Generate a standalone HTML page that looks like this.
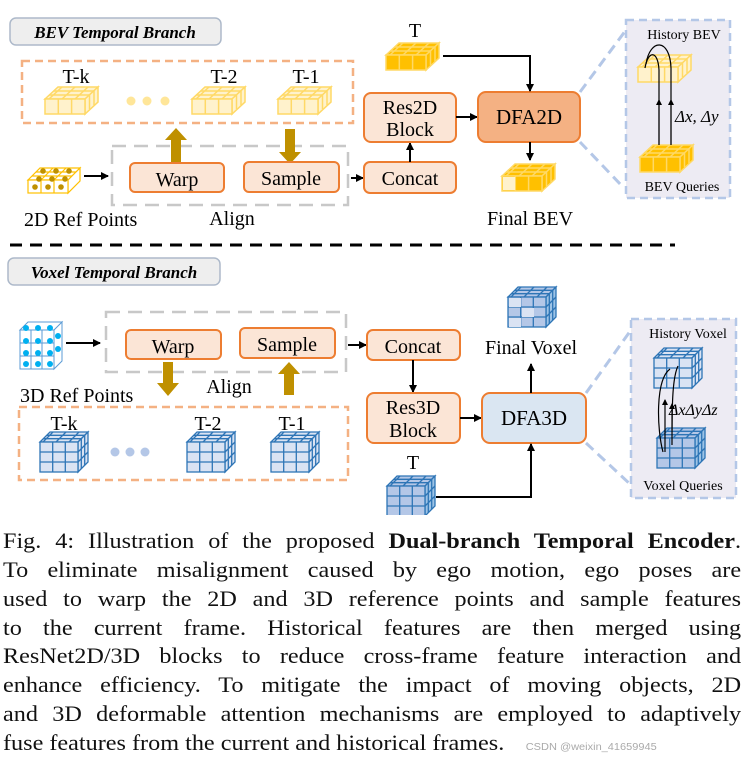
<!DOCTYPE html>
<html><head><meta charset="utf-8"><style>
html,body{margin:0;padding:0;background:#fff;width:747px;height:760px;overflow:hidden}
svg{position:absolute;left:0;top:0}
.cap{position:absolute;left:3px;width:671px;font-family:"Liberation Serif",serif;font-size:22px;line-height:29px;color:#111;white-space:nowrap;transform:scaleX(1.1);transform-origin:0 0}
.j{text-align:justify;text-align-last:justify}
</style></head><body>
<svg width="747" height="515" viewBox="0 0 747 515" font-family="Liberation Serif, serif">
<defs>
<marker id="ah" markerWidth="8" markerHeight="8" refX="7" refY="4" orient="auto" markerUnits="userSpaceOnUse"><path d="M0,0 L8,4 L0,8 z" fill="#000"/></marker>
<marker id="as" markerWidth="6" markerHeight="6" refX="5" refY="3" orient="auto" markerUnits="userSpaceOnUse"><path d="M0,0 L6,3 L0,6 z" fill="#000"/></marker>
<g id="tile" stroke="#ffd966" stroke-width="1.5">
 <path d="M0,12 L13,0 L53,0 L40,12 z" fill="#fff2cc"/>
 <path d="M40,12 L53,0 L53,15 L40,27 z" fill="#fff2cc"/>
 <rect x="0" y="12" width="40" height="15" fill="#fff2cc"/>
 <path d="M13.3,12 V27 M26.6,12 V27 M4,8 H44 M8.5,4 H48.5 M17,0 L4,12 M30,0 L17,12 M43,0 L30,12 M44.5,7 V22 M49,3 V18" fill="none"/>
</g>
<g id="tileT" stroke="#ffd966" stroke-width="1.5">
 <path d="M0,12 L13,0 L53,0 L40,12 z" fill="#ffc000"/>
 <path d="M40,12 L53,0 L53,15 L40,27 z" fill="#ffc000"/>
 <rect x="0" y="12" width="40" height="15" fill="#ffc000"/>
 <path d="M13.3,12 V27 M26.6,12 V27 M4,8 H44 M8.5,4 H48.5 M17,0 L4,12 M30,0 L17,12 M43,0 L30,12 M44.5,7 V22 M49,3 V18" fill="none"/>
</g>
<g id="cube" stroke="#2e75b6" stroke-width="1.3">
 <path d="M0,10 L10,0 L48,0 L38,10 z" fill="#dae3f3"/>
 <path d="M38,10 L48,0 L48,30 L38,40 z" fill="#dae3f3"/>
 <rect x="0" y="10" width="38" height="30" fill="#dae3f3"/>
 <path d="M12.7,10 V40 M25.3,10 V40 M0,20 H38 M0,30 H38 M13,0 L3,10 M26,0 L16,10 M39,0 L29,10 M3.3,6.7 H41.3 M6.7,3.3 H44.7 M41.3,6.7 V36.7 M44.7,3.3 V33.3 M38,20 L48,10 M38,30 L48,20" fill="none"/>
</g>
<g id="cubeD" stroke="#2e75b6" stroke-width="1.3">
 <path d="M0,10 L10,0 L48,0 L38,10 z" fill="#b4c7e7"/>
 <path d="M38,10 L48,0 L48,30 L38,40 z" fill="#9dc3e6"/>
 <rect x="0" y="10" width="38" height="30" fill="#b4c7e7"/>
 <path d="M12.7,10 V40 M25.3,10 V40 M0,20 H38 M0,30 H38 M13,0 L3,10 M26,0 L16,10 M39,0 L29,10 M3.3,6.7 H41.3 M6.7,3.3 H44.7 M41.3,6.7 V36.7 M44.7,3.3 V33.3 M38,20 L48,10 M38,30 L48,20" fill="none"/>
</g>
</defs>

<rect x="10" y="18" width="211" height="27" rx="6" fill="#eeeeee" stroke="#adb9ca" stroke-width="1.5"/>
<text x="115" y="38" text-anchor="middle" font-size="17" font-weight="bold" font-style="italic">BEV Temporal Branch</text>

<rect x="22" y="61" width="331" height="62" fill="none" stroke="#f4b183" stroke-width="2.5" stroke-dasharray="8,5"/>
<g font-size="20" text-anchor="middle">
<text x="76" y="83">T-k</text><text x="224" y="83">T-2</text><text x="306" y="83">T-1</text></g>
<use href="#tile" x="45" y="87"/><use href="#tile" x="192" y="87"/><use href="#tile" x="278" y="87"/>
<circle cx="131" cy="101" r="4.5" fill="#ffe699"/><circle cx="147" cy="101" r="4.5" fill="#ffe699"/><circle cx="165" cy="101" r="4.5" fill="#ffe699"/>

<rect x="112" y="146" width="236" height="59" fill="none" stroke="#c8c8c8" stroke-width="2.5" stroke-dasharray="14,8"/>
<path d="M171,163 V140 H165 L176,128 L187,140 H181 V163 z" fill="#bf9000"/>
<path d="M285,129 V152 H279 L290,164 L301,152 H295 V129 z" fill="#bf9000"/>
<rect x="130" y="163" width="94" height="29" rx="5" fill="#fbe5d6" stroke="#ed7d31" stroke-width="2"/>
<text x="177" y="186" text-anchor="middle" font-size="20">Warp</text>
<rect x="244" y="162" width="95" height="30" rx="5" fill="#fbe5d6" stroke="#ed7d31" stroke-width="2"/>
<text x="291" y="185" text-anchor="middle" font-size="20">Sample</text>

<g stroke="#ffc000" stroke-width="1.2" fill="#fff">
<path d="M28,180 L40,168 L80,168 L68,180 z"/><path d="M68,180 L80,168 L80,181 L68,193 z"/><rect x="28" y="180" width="40" height="13"/>
<path d="M41,180 V193 M54,180 V193 M32,176 H72 M36,172 H76 M53,168 L41,180 M66,168 L54,180" fill="none"/></g>
<g fill="#bf9000"><circle cx="43" cy="171" r="2.8"/><circle cx="56" cy="171" r="2.8"/><circle cx="69" cy="171" r="2.8"/>
<circle cx="39" cy="179" r="2.8"/><circle cx="52" cy="179" r="2.8"/><circle cx="65" cy="179" r="2.8"/>
<circle cx="35" cy="187" r="2.8"/><circle cx="48" cy="187" r="2.8"/><circle cx="61" cy="187" r="2.8"/></g>
<line x1="84" y1="176" x2="108" y2="176" stroke="#000" stroke-width="2" marker-end="url(#ah)"/>
<text x="24" y="226" font-size="20">2D Ref Points</text>
<text x="232" y="225" text-anchor="middle" font-size="20">Align</text>

<line x1="351" y1="178" x2="363" y2="178" stroke="#000" stroke-width="2" marker-end="url(#ah)"/>
<rect x="364" y="162" width="92" height="31" rx="6" fill="#fbe5d6" stroke="#ed7d31" stroke-width="2"/>
<text x="410" y="185" text-anchor="middle" font-size="20">Concat</text>
<line x1="410" y1="162" x2="410" y2="143" stroke="#000" stroke-width="2" marker-end="url(#ah)"/>
<rect x="364" y="93" width="92" height="49" rx="7" fill="#fbe5d6" stroke="#ed7d31" stroke-width="2"/>
<text x="410" y="114" text-anchor="middle" font-size="20">Res2D</text>
<text x="410" y="136" text-anchor="middle" font-size="20">Block</text>
<line x1="456" y1="117" x2="477" y2="117" stroke="#000" stroke-width="2" marker-end="url(#ah)"/>
<rect x="478" y="92" width="102" height="50" rx="8" fill="#f4b183" stroke="#ed7d31" stroke-width="2"/>
<text x="529" y="124" text-anchor="middle" font-size="21">DFA2D</text>
<text x="415" y="37" text-anchor="middle" font-size="20">T</text>
<use href="#tileT" x="386" y="43"/>
<path d="M443,56 H530 V91" fill="none" stroke="#000" stroke-width="2" marker-end="url(#ah)"/>
<line x1="530" y1="142" x2="530" y2="160" stroke="#000" stroke-width="2" marker-end="url(#ah)"/>
<use href="#tileT" x="502" y="164"/>
<rect x="503" y="177" width="12" height="13" fill="#fff2cc"/>
<text x="530" y="225" text-anchor="middle" font-size="20">Final BEV</text>

<line x1="580" y1="92" x2="626" y2="30" stroke="#b4c7e7" stroke-width="3" stroke-dasharray="10,6"/>
<line x1="580" y1="142" x2="622" y2="186" stroke="#b4c7e7" stroke-width="3" stroke-dasharray="10,6"/>
<rect x="626" y="20" width="104" height="178" fill="#edebf3" stroke="#b4c7e7" stroke-width="2.5" stroke-dasharray="8,5"/>
<text x="684" y="39" text-anchor="middle" font-size="14">History BEV</text>
<use href="#tile" x="638" y="55"/>
<use href="#tileT" x="640" y="145"/>
<path d="M659,145 V100" stroke="#000" stroke-width="1.3" fill="none" marker-end="url(#as)"/>
<path d="M671,145 V100" stroke="#000" stroke-width="1.3" fill="none" marker-end="url(#as)"/>
<path d="M659,100 V70 C658,50 648,50 645,68" stroke="#000" stroke-width="1.2" fill="none"/>
<path d="M671,100 V68 C670,38 650,38 646,64" stroke="#000" stroke-width="1.2" fill="none"/>
<text x="675" y="122" font-size="17" font-style="italic">Δx, Δy</text>
<text x="682" y="191" text-anchor="middle" font-size="14">BEV Queries</text>

<line x1="10" y1="245" x2="675" y2="245" stroke="#000" stroke-width="3" stroke-dasharray="12,8"/>

<rect x="8" y="258" width="212" height="27" rx="6" fill="#eeeeee" stroke="#adb9ca" stroke-width="1.5"/>
<text x="114" y="278" text-anchor="middle" font-size="17" font-weight="bold" font-style="italic">Voxel Temporal Branch</text>

<g stroke="#5b9bd5" stroke-width="1" fill="none">
<path d="M20,330 L28,322 L62,322 L54,330 z M54,330 L62,322 L62,361 L54,369 z"/><rect x="20" y="330" width="34" height="39"/>
<path d="M31,330 V369 M42,330 V369 M20,343 H54 M20,356 H54"/></g>
<g fill="#00b0f0">
<circle cx="26" cy="328" r="3"/><circle cx="38" cy="328" r="3"/><circle cx="50" cy="328" r="3"/>
<circle cx="26" cy="341" r="3"/><circle cx="38" cy="341" r="3"/><circle cx="50" cy="341" r="3"/><circle cx="58" cy="336" r="3"/>
<circle cx="26" cy="353" r="3"/><circle cx="38" cy="353" r="3"/><circle cx="50" cy="353" r="3"/><circle cx="58" cy="349" r="3"/>
<circle cx="26" cy="364" r="3"/><circle cx="38" cy="364" r="3"/><circle cx="50" cy="364" r="3"/></g>
<line x1="66" y1="343" x2="100" y2="343" stroke="#000" stroke-width="2" marker-end="url(#ah)"/>

<rect x="106" y="312" width="240" height="60" fill="none" stroke="#c8c8c8" stroke-width="2.5" stroke-dasharray="14,8"/>
<rect x="126" y="330" width="95" height="29" rx="5" fill="#fbe5d6" stroke="#ed7d31" stroke-width="2"/>
<text x="173" y="353" text-anchor="middle" font-size="20">Warp</text>
<rect x="240" y="328" width="95" height="30" rx="5" fill="#fbe5d6" stroke="#ed7d31" stroke-width="2"/>
<text x="287" y="351" text-anchor="middle" font-size="20">Sample</text>
<path d="M163,362 V383 H157 L168,396 L179,383 H173 V362 z" fill="#bf9000"/>
<path d="M284,395 V374 H278 L289,362 L300,374 H294 V395 z" fill="#bf9000"/>
<text x="229" y="393" text-anchor="middle" font-size="20">Align</text>
<text x="20" y="402" font-size="20">3D Ref Points</text>

<rect x="19" y="407" width="329" height="73" fill="none" stroke="#f4b183" stroke-width="2.5" stroke-dasharray="8,5"/>
<g font-size="20" text-anchor="middle"><text x="64" y="430">T-k</text><text x="208" y="430">T-2</text><text x="292" y="430">T-1</text></g>
<use href="#cube" x="40" y="432"/><use href="#cube" x="187" y="432"/><use href="#cube" x="271" y="432"/>
<circle cx="115" cy="452" r="4.5" fill="#b4c7e7"/><circle cx="130" cy="452" r="4.5" fill="#b4c7e7"/><circle cx="145" cy="452" r="4.5" fill="#b4c7e7"/>

<line x1="348" y1="345" x2="366" y2="345" stroke="#000" stroke-width="2" marker-end="url(#ah)"/>
<rect x="367" y="330" width="93" height="30" rx="6" fill="#fbe5d6" stroke="#ed7d31" stroke-width="2"/>
<text x="413" y="353" text-anchor="middle" font-size="20">Concat</text>
<line x1="413" y1="360" x2="413" y2="392" stroke="#000" stroke-width="2" marker-end="url(#ah)"/>
<rect x="367" y="393" width="93" height="50" rx="7" fill="#fbe5d6" stroke="#ed7d31" stroke-width="2"/>
<text x="413" y="414" text-anchor="middle" font-size="20">Res3D</text>
<text x="413" y="437" text-anchor="middle" font-size="20">Block</text>
<line x1="460" y1="418" x2="481" y2="418" stroke="#000" stroke-width="2" marker-end="url(#ah)"/>
<rect x="482" y="393" width="104" height="50" rx="8" fill="#dae6f2" stroke="#ed7d31" stroke-width="2"/>
<text x="534" y="425" text-anchor="middle" font-size="21">DFA3D</text>
<line x1="531" y1="393" x2="531" y2="364" stroke="#000" stroke-width="2" marker-end="url(#ah)"/>
<text x="531" y="354" text-anchor="middle" font-size="20">Final Voxel</text>
<use href="#cubeD" x="508" y="287"/>
<rect x="509" y="298" width="12" height="9" fill="#dae3f3"/><rect x="522" y="308" width="12" height="9" fill="#dae3f3"/><rect x="509" y="318" width="12" height="9" fill="#dae3f3"/>
<text x="413" y="469" text-anchor="middle" font-size="20">T</text>
<use href="#cubeD" x="387" y="476"/>
<path d="M436,497 H531 V444" fill="none" stroke="#000" stroke-width="2" marker-end="url(#ah)"/>

<line x1="586" y1="393" x2="631" y2="330" stroke="#b4c7e7" stroke-width="3" stroke-dasharray="10,6"/>
<line x1="586" y1="443" x2="631" y2="485" stroke="#b4c7e7" stroke-width="3" stroke-dasharray="10,6"/>
<rect x="631" y="319" width="105" height="179" fill="#edebf3" stroke="#b4c7e7" stroke-width="2.5" stroke-dasharray="8,5"/>
<text x="688" y="338" text-anchor="middle" font-size="14">History Voxel</text>
<use href="#cube" x="654" y="348"/>
<use href="#cubeD" x="657" y="428"/>
<path d="M663,452 C657,430 655,380 670,369" stroke="#000" stroke-width="1.2" fill="none"/>
<path d="M665,452 V400" stroke="#000" stroke-width="1.2" fill="none" marker-end="url(#as)"/>
<path d="M672,445 C672,410 672,378 678,366" stroke="#000" stroke-width="1.2" fill="none"/>
<path d="M672,430 V404" stroke="#000" stroke-width="1.2" fill="none" marker-end="url(#as)"/>
<text x="669" y="415" font-size="16" font-style="italic">ΔxΔyΔz</text>
<text x="683" y="490" text-anchor="middle" font-size="14">Voxel Queries</text>
</svg>

<div class="cap j" style="top:526px">Fig. 4: Illustration of the proposed <b>Dual-branch Temporal Encoder</b>.</div>
<div class="cap j" style="top:555px">To eliminate misalignment caused by ego motion, ego poses are</div>
<div class="cap j" style="top:584px">used to warp the 2D and 3D reference points and sample features</div>
<div class="cap j" style="top:613px">to the current frame. Historical features are then merged using</div>
<div class="cap j" style="top:641px">ResNet2D/3D blocks to reduce cross-frame feature interaction and</div>
<div class="cap j" style="top:670px">enhance efficiency. To mitigate the impact of moving objects, 2D</div>
<div class="cap j" style="top:699px">and 3D deformable attention mechanisms are employed to adaptively</div>
<div class="cap" style="top:728px">fuse features from the current and historical frames. <span style="font-family:'Liberation Sans',sans-serif;font-size:10px;color:#aaa;margin-left:14px">CSDN @weixin_41659945</span></div>
</body></html>
